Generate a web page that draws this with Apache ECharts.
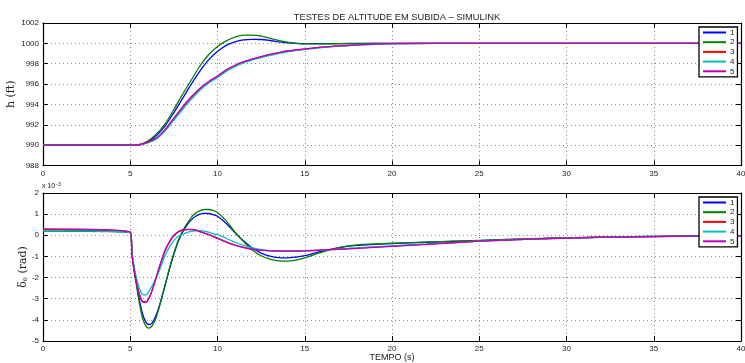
<!DOCTYPE html>
<html>
<head>
<meta charset="utf-8">
<script src="https://cdn.jsdelivr.net/npm/echarts@6/dist/echarts.min.js"></script>
<style>
  html, body { margin: 0; padding: 0; background: #fff; }
  #chart { width: 745px; height: 363px; }
</style>
</head>
<body>
<div id="chart"></div>
<script>
// tempo (s) - altitude
var tH = [0, 5, 5.5, 6, 6.5, 7, 7.5, 8, 8.5, 9, 9.5, 10, 10.5, 11, 11.5, 12, 12.5, 13, 13.5, 14, 15, 16, 17, 18, 20, 25, 30, 40];
var h1 = [990, 990, 990.03, 990.3, 990.95, 991.9, 993.2, 994.6, 996.0, 997.3, 998.4, 999.2, 999.8, 1000.15, 1000.35, 1000.4, 1000.38, 1000.28, 1000.15, 1000.05, 999.97, 999.97, 999.98, 999.99, 1000, 1000, 1000, 1000];
var h2 = [990, 990, 990.05, 990.4, 991.1, 992.1, 993.5, 995.0, 996.4, 997.8, 998.9, 999.7, 1000.25, 1000.62, 1000.8, 1000.8, 1000.72, 1000.5, 1000.3, 1000.12, 999.95, 999.95, 999.97, 999.98, 1000, 1000, 1000, 1000];
var h3 = [990, 990, 990.03, 990.27, 990.67, 991.5, 992.6, 993.7, 994.7, 995.55, 996.2, 996.76, 997.36, 997.82, 998.17, 998.45, 998.68, 998.9, 999.08, 999.23, 999.44, 999.62, 999.75, 999.85, 999.97, 1000, 1000, 1000];
var h4 = [990, 990, 990.02, 990.22, 990.6, 991.4, 992.45, 993.5, 994.5, 995.4, 996.1, 996.65, 997.25, 997.7, 998.07, 998.37, 998.6, 998.82, 999.0, 999.17, 999.4, 999.58, 999.72, 999.83, 999.96, 1000, 1000, 1000];
var h5 = [990, 990, 990.04, 990.3, 990.7, 991.55, 992.65, 993.75, 994.75, 995.6, 996.25, 996.8, 997.4, 997.85, 998.2, 998.48, 998.7, 998.92, 999.1, 999.25, 999.45, 999.63, 999.76, 999.86, 999.97, 1000, 1000, 1000];

// tempo (s) - deflexao do profundor (x 10^-3 rad)
var tD = [0, 5, 5.1, 5.2, 5.35, 5.5, 5.7, 5.9, 6.05, 6.25, 6.5, 6.75, 7, 7.25, 7.5, 7.75, 8, 8.25, 8.5, 8.75, 9, 9.25, 9.5, 9.75, 10, 10.5, 11, 11.5, 12, 12.5, 13, 13.5, 14, 14.5, 15, 16, 17, 18, 20, 22, 25, 28, 30, 35, 40];
var d1 = [0.25, 0.15, -0.85, -1.5, -2.25, -2.95, -3.7, -4.12, -4.22, -4.15, -3.75, -3.1, -2.35, -1.6, -0.9, -0.3, 0.15, 0.48, 0.73, 0.9, 1.0, 1.04, 1.03, 0.98, 0.9, 0.56, 0.12, -0.27, -0.6, -0.84, -0.99, -1.06, -1.07, -1.03, -0.96, -0.75, -0.58, -0.48, -0.39, -0.33, -0.25, -0.17, -0.12, -0.05, -0.02];
var d2 = [0.2, 0.13, -0.9, -1.6, -2.35, -3.1, -3.9, -4.3, -4.39, -4.28, -3.85, -3.15, -2.35, -1.55, -0.85, -0.25, 0.2, 0.55, 0.85, 1.05, 1.17, 1.22, 1.22, 1.17, 1.08, 0.68, 0.15, -0.3, -0.7, -0.97, -1.13, -1.21, -1.22, -1.17, -1.07, -0.8, -0.57, -0.45, -0.37, -0.32, -0.24, -0.16, -0.12, -0.05, -0.02];
var d3 = [0.28, 0.15, -0.88, -1.48, -2.18, -2.72, -3.12, -3.15, -3.0, -2.62, -1.95, -1.3, -0.72, -0.32, -0.02, 0.16, 0.24, 0.27, 0.27, 0.24, 0.17, 0.1, 0.03, -0.05, -0.14, -0.31, -0.46, -0.57, -0.65, -0.7, -0.73, -0.74, -0.74, -0.74, -0.73, -0.69, -0.65, -0.61, -0.51, -0.42, -0.28, -0.18, -0.13, -0.06, -0.02];
var d4 = [0.22, 0.12, -0.8, -1.35, -2.0, -2.45, -2.8, -2.82, -2.68, -2.4, -2.0, -1.5, -0.95, -0.55, -0.25, -0.05, 0.05, 0.13, 0.18, 0.21, 0.22, 0.2, 0.15, 0.08, 0.03, -0.14, -0.33, -0.48, -0.6, -0.68, -0.73, -0.75, -0.75, -0.75, -0.74, -0.7, -0.65, -0.6, -0.5, -0.42, -0.28, -0.18, -0.13, -0.06, -0.02];
var d5 = [0.3, 0.15, -0.9, -1.5, -2.2, -2.75, -3.15, -3.18, -3.02, -2.62, -1.95, -1.3, -0.7, -0.3, 0.0, 0.17, 0.25, 0.28, 0.28, 0.25, 0.17, 0.1, 0.03, -0.05, -0.15, -0.32, -0.47, -0.58, -0.66, -0.71, -0.74, -0.75, -0.75, -0.75, -0.74, -0.7, -0.66, -0.62, -0.52, -0.43, -0.28, -0.18, -0.13, -0.06, -0.02];

var names = ['1', '2', '3', '4', '5'];
var cores = ['#0000ff', '#008000', '#ff0000', '#00bfbf', '#bf00bf'];
var hSeries = [h1, h2, h3, h4, h5];
var dSeries = [d1, d2, d3, d4, d5];

function pares(t, v) {
    var out = [];
    for (var i = 0; i < t.length; i++) out.push([t[i], v[i]]);
    return out;
}

var fonte = 'Liberation Sans';
var gridLine = { show: true, lineStyle: { color: '#8a8a8a', type: [1, 3], width: 1 } };
var linhaEixo = { show: true, onZero: false, lineStyle: { color: '#000', width: 1.2 } };
var tick = { show: true, inside: true, length: 5, lineStyle: { color: '#000', width: 1 } };
var lbl = { fontFamily: fonte, fontSize: 8, color: '#222', margin: 4, formatter: function (v) { return String(v); } };

function eixoX(grid, pos, comLabel, extra) {
    var ax = {
        type: 'value', gridIndex: grid, position: pos, min: 0, max: 40, interval: 5,
        axisLine: linhaEixo, axisTick: tick,
        axisLabel: comLabel ? lbl : { show: false },
        splitLine: comLabel ? gridLine : { show: false }
    };
    return Object.assign(ax, extra || {});
}
function eixoY(grid, pos, min, max, step, comLabel, extra) {
    var ax = {
        type: 'value', gridIndex: grid, position: pos, min: min, max: max, interval: step,
        axisLine: linhaEixo, axisTick: tick,
        axisLabel: comLabel ? lbl : { show: false },
        splitLine: comLabel ? gridLine : { show: false }
    };
    return Object.assign(ax, extra || {});
}

var series = [];
for (var i = 0; i < 5; i++) {
    series.push({
        name: names[i], type: 'line', xAxisIndex: 0, yAxisIndex: 0,
        data: pares(tH, hSeries[i]), showSymbol: false, smooth: 0.3,
        lineStyle: { width: 1.3, color: cores[i] }, itemStyle: { color: cores[i] }
    });
}
for (var j = 0; j < 5; j++) {
    series.push({
        name: names[j], type: 'line', xAxisIndex: 1, yAxisIndex: 1,
        data: pares(tD, dSeries[j]), showSymbol: false, smooth: 0.3,
        lineStyle: { width: 1.3, color: cores[j] }, itemStyle: { color: cores[j] }
    });
}

function legenda(top) {
    return {
        data: names, orient: 'vertical', left: 699, top: top,
        icon: 'rect', itemWidth: 23, itemHeight: 2, itemGap: 0.7,
        selectedMode: false, padding: [1, 3, 1, 4],
        borderColor: '#000', borderWidth: 1.3, backgroundColor: '#fff',
        textStyle: { fontFamily: fonte, fontSize: 8, color: '#222', lineHeight: 9, padding: [0, 0, 0, -1] }
    };
}

var chart = echarts.init(document.getElementById('chart'));
chart.setOption({
    animation: false,
    backgroundColor: '#fff',
    title: {
        text: 'TESTES DE ALTITUDE EM SUBIDA \u2013 SIMULINK',
        left: 392, top: 8, textAlign: 'center',
        textStyle: { fontFamily: fonte, fontSize: 9.3, fontWeight: 'normal', color: '#222' }
    },
    legend: [legenda(27), legenda(197)],
    grid: [
        { left: 43, right: 4, top: 23, height: 142.5, containLabel: false, outerBoundsMode: 'none' },
        { left: 43, right: 4, top: 193, height: 148, containLabel: false, outerBoundsMode: 'none' }
    ],
    xAxis: [
        eixoX(0, 'bottom', true),
        eixoX(1, 'bottom', true, {
            name: 'TEMPO (s)', nameLocation: 'middle', nameGap: 12, nameMoveOverlap: false,
            nameTextStyle: { fontFamily: fonte, fontSize: 9, color: '#222' }
        }),
        eixoX(0, 'top', false),
        eixoX(1, 'top', false)
    ],
    yAxis: [
        eixoY(0, 'left', 988, 1002, 2, true, {
            name: 'h (ft)', nameLocation: 'middle', nameGap: 26, nameMoveOverlap: false,
            nameTextStyle: { fontFamily: 'DejaVu Serif', fontSize: 11, color: '#222' }
        }),
        eixoY(1, 'left', -5, 2, 1, true, {
            name: '{a|\u03b4}{s|e}{a| (rad)}', nameLocation: 'middle', nameGap: 14, nameMoveOverlap: false,
            nameTextStyle: {
                color: '#222',
                rich: {
                    a: { fontFamily: 'DejaVu Serif', fontSize: 11, color: '#222' },
                    s: { fontFamily: 'DejaVu Serif', fontSize: 7, color: '#222', verticalAlign: 'bottom', padding: [5, 0, 0, 0] }
                }
            }
        }),
        eixoY(0, 'right', 988, 1002, 2, false),
        eixoY(1, 'right', -5, 2, 1, false)
    ],
    graphic: [{
        type: 'text', left: 42, top: 182,
        style: {
            text: '{a|x 10}{b|-3}',
            rich: {
                a: { fontFamily: fonte, fontSize: 7, fill: '#222' },
                b: { fontFamily: fonte, fontSize: 5, fill: '#222', verticalAlign: 'top', padding: [0, 0, 4, 1] }
            }
        }
    }],
    series: series
});
</script>
</body>
</html>
